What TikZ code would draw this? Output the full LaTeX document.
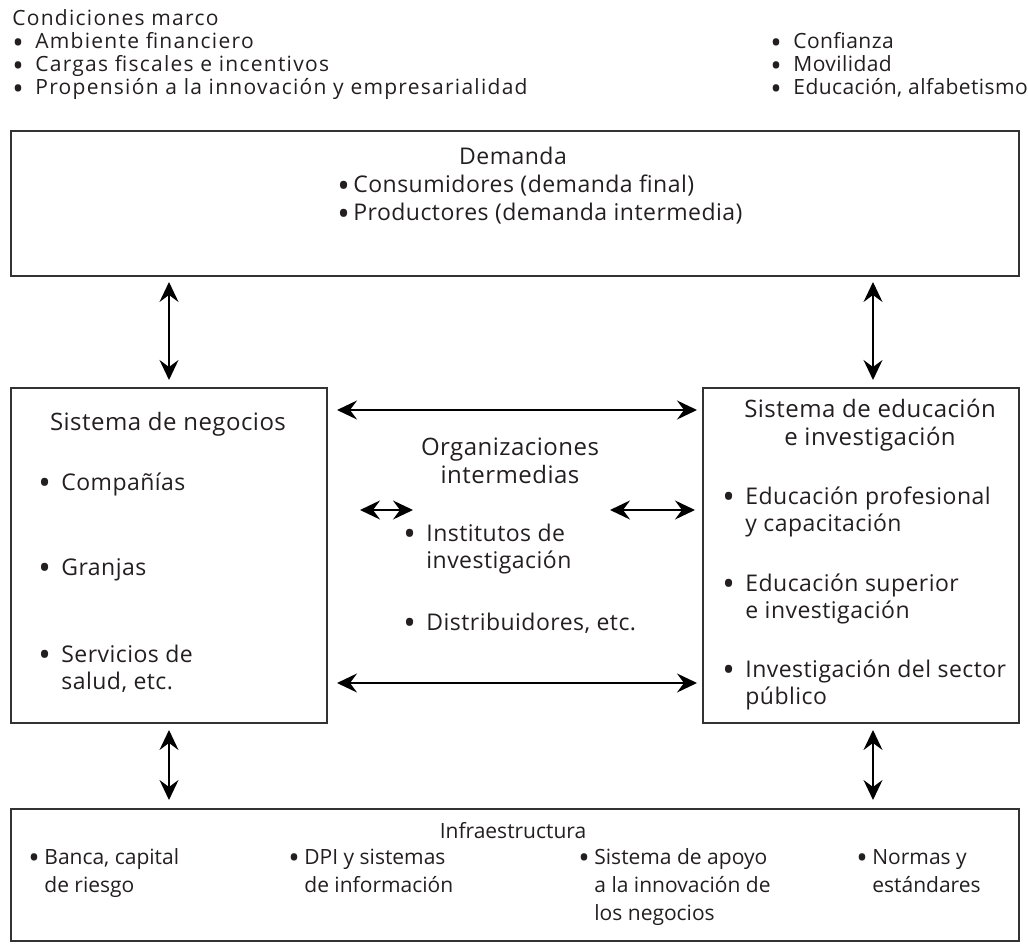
\documentclass[tikz,border=0pt]{standalone}
\usepackage{fontspec}
\setmainfont[LetterSpace=2]{Open Sans}
\newfontfamily\plainfont{Open Sans}
\newfontfamily\widefont[LetterSpace=6]{Open Sans}
\usetikzlibrary{arrows.meta,positioning}
\definecolor{ink}{HTML}{231F20}
\definecolor{rule}{HTML}{333333}
\newcommand{\bigdot}{\raisebox{-0.2em}{\scalebox{1.45}{•}}}
\newcommand{\bl}{\makebox[11.5pt][l]{\bigdot}}
\newcommand{\ind}{\hspace*{11.5pt}}
\newcommand{\cbl}{\makebox[8pt][l]{\bigdot}}
\newcommand{\cind}{\hspace*{8pt}}

\begin{document}
\begin{tikzpicture}[x=0.5pt, y=-0.5pt,
  every node/.style={inner sep=0pt, text=ink},
  box/.style={draw=rule, line width=1pt, anchor=north west},
  txt/.style={align=left, font=\widefont\fontsize{10.5}{11.5}\selectfont},
  txtb/.style={align=left, font=\fontsize{10.5}{11.5}\selectfont},
  head/.style={align=center, font=\fontsize{12}{13.5}\selectfont},
  body/.style={align=left, font=\fontsize{11.5}{13.5}\selectfont},
  dtxt/.style={align=left, font=\fontsize{11.5}{14}\selectfont},
  itxt/.style={align=left, font=\plainfont\fontsize{10.5}{14}\selectfont},
  ar/.style={{Stealth[length=10pt, width=9.5pt, inset=3.5pt]}-{Stealth[length=10pt, width=9.5pt, inset=3.5pt]},
    draw=black, line width=0.9pt},
]
\useasboundingbox (0,0) rectangle (1028,946);

% framework conditions (anchors sit on the last line)
\node[txt, anchor=base west] (cond) at (12,95) {Condiciones marco\\
  \bl Ambiente financiero\\
  \bl Cargas fiscales e incentivos\\
  \bl Propensión a la innovación y empresarialidad};
\node[txtb, anchor=base west] (cond2) at (770,95) {\bl Confianza\\
  \bl Movilidad\\
  \bl Educación, alfabetismo};

% boxes
\node[box, minimum width=504pt, minimum height=72.5pt] (dem) at (10,130) {};
\node[box, minimum width=158pt, minimum height=167.5pt] (neg) at (10,387) {};
\node[box, minimum width=158pt, minimum height=167.5pt] (edu) at (702,387) {};
\node[box, minimum width=504pt, minimum height=66pt] (inf) at (10,808) {};

% demand
\node[dtxt, anchor=base] (demt) at (513,165) {Demanda};
\node[dtxt, anchor=base west] (demb) at (337,221) {\cbl Consumidores (demanda final)\\
  \cbl Productores (demanda intermedia)};

% business system
\node[head, anchor=base] (negt) at (168,430) {Sistema de negocios};
\node[body, anchor=base west] (neg1) at (38,490) {\bl Compañías};
\node[body, anchor=base west] (neg2) at (38,575) {\bl Granjas};
\node[body, anchor=base west] (neg3) at (38,689) {\bl Servicios de\\ \ind salud, etc.};

% intermediaries
\node[head, anchor=base] (orgt) at (510,483) {Organizaciones\\ intermedias};
\node[body, anchor=base west] (org1) at (403,568) {\bl Institutos de\\ \ind investigación};
\node[body, anchor=base west] (org2) at (403,630) {\bl Distribuidores, etc.};

% education and research
\node[head, anchor=base] (edut) at (870,445) {Sistema de educación\\ e investigación};
\node[body, anchor=base west] (edu1) at (722,531) {\bl Educación profesional\\ \ind y capacitación};
\node[body, anchor=base west] (edu2) at (722,618) {\bl Educación superior\\ \ind e investigación};
\node[body, anchor=base west] (edu3) at (722,704) {\bl Investigación del sector\\ \ind público};

% infrastructure
\node[itxt, anchor=base] (inft) at (513,838) {Infraestructura};
\node[itxt, anchor=base west] (inf1) at (28,892) {\cbl Banca, capital\\ \cind de riesgo};
\node[itxt, anchor=base west] (inf2) at (288,892) {\cbl DPI y sistemas\\ \cind de información};
\node[itxt, anchor=base west] (inf3) at (578,920) {\cbl Sistema de apoyo\\ \cind a la innovación de\\ \cind los negocios};
\node[itxt, anchor=base west] (inf4) at (856,892) {\cbl Normas y\\ \cind estándares};

% links
\coordinate (oa) at (360,510);
\coordinate (ob) at (413,510);
\coordinate (oc) at (610,510);
\draw[ar, shorten <=2.5pt, shorten >=3.5pt] (dem.south -| neg.north) -- (neg.north);
\draw[ar, shorten <=2.5pt, shorten >=3.5pt] ([xshift=6pt]dem.south -| edu.north) -- ([xshift=6pt]edu.north);
\draw[ar, shorten <=3pt, shorten >=4pt] (neg.south) -- (inf.north -| neg.south);
\draw[ar, shorten <=3pt, shorten >=4pt] ([xshift=6pt]edu.south) -- ([xshift=6pt]inf.north -| edu.south);
\draw[ar, shorten <=4.5pt, shorten >=2.5pt] ([yshift=-11.5pt]neg.north east) -- ([yshift=-11.5pt]neg.north east -| edu.west);
\draw[ar, shorten <=4.5pt, shorten >=2.5pt] ([yshift=20.5pt]neg.south east) -- ([yshift=20.5pt]neg.south east -| edu.west);
\draw[ar] (oa) -- (ob);
\draw[ar, shorten >=3.5pt] (oc) -- (oc -| edu.west);
\end{tikzpicture}
\end{document}
